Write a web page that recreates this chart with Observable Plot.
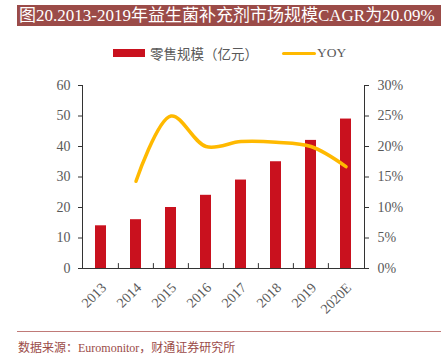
<!DOCTYPE html>
<html>
<head>
<meta charset="utf-8">
<script src="https://cdn.jsdelivr.net/npm/d3@7"></script>
<script src="https://cdn.jsdelivr.net/npm/@observablehq/plot@0.6"></script>
<style>
  body { margin: 0; background: #fff; }
  #wrap { position: relative; width: 441px; height: 354px; overflow: hidden; font-family: "Liberation Serif", "Noto Sans CJK SC", serif; }
  #title { position: absolute; left: 17px; top: 5px; width: 424px; height: 21px; background: #9b4b48; color: #fff; font-size: 17px; line-height: 21px; padding-left: 2px; box-sizing: border-box; white-space: nowrap; overflow: hidden; }
  #legend { position: absolute; top: 44px; left: 113px; height: 18px; display: flex; align-items: center; font-size: 13.5px; color: #595959; white-space: nowrap; }
  .sw-bar { width: 32px; height: 8px; background: #c9111e; margin-right: 5px; }
  .sw-line { width: 34px; height: 3px; background: #ffb900; margin-left: 24px; margin-right: 1px; border-radius: 2px; }
  #chart { position: absolute; left: 0; top: 70px; }
  #rule { position: absolute; left: 17px; top: 331px; width: 424px; height: 1px; background: #c07a78; }
  #source { position: absolute; left: 18px; top: 338px; font-size: 12px; color: #9b4b48; white-space: nowrap; }
</style>
</head>
<body>
<div id="wrap">
  <div id="title">图20.2013-2019年益生菌补充剂市场规模CAGR为20.09%</div>
  <div id="legend"><span class="sw-bar"></span><span>零售规模（亿元）</span><span class="sw-line"></span><span>YOY</span></div>
  <div id="chart"></div>
  <div id="rule"></div>
  <div id="source">数据来源：Euromonitor，财通证券研究所</div>
</div>
<script>
const years = ["2013", "2014", "2015", "2016", "2017", "2018", "2019", "2020E"];
const retail = [14, 16, 20, 24, 29, 35, 42, 49];
const yoy = [null, 14.3, 25.0, 20.0, 20.8, 20.7, 20.0, 16.7];
const leftTicks = [0, 10, 20, 30, 40, 50, 60];
const rightTickLabels = ["0%", "5%", "10%", "15%", "20%", "25%", "30%"];

const bars = years.map((year, i) => ({year, value: retail[i]}));
const yoyData = years.map((year, i) => ({year, yoy: yoy[i]})).filter(d => d.yoy != null);

const width = 441, height = 260;
const marginLeft = 82, marginRight = 77;
const step = (width - marginLeft - marginRight) / years.length;

const chart = Plot.plot({
  width, height,
  marginTop: 15, marginBottom: 62, marginLeft, marginRight,
  style: {fontFamily: '"Liberation Serif", "Noto Sans CJK SC", serif', fontSize: "14px", color: "#595959", background: "transparent", overflow: "visible"},
  x: {domain: years, paddingInner: 0.69, paddingOuter: 0.345, label: null},
  y: {domain: [0, 60], label: null},
  marks: [
    Plot.barY(bars, {x: "year", y: "value", fill: "#c9111e"}),
    Plot.line(yoyData, {x: "year", y: d => d.yoy * 2, stroke: "#ffb900", strokeWidth: 3.5, curve: "catmull-rom", strokeLinecap: "round"}),
    Plot.ruleY([0], {stroke: "#333"}),
    Plot.frame({anchor: "left", stroke: "#333"}),
    Plot.frame({anchor: "right", stroke: "#333"}),
    Plot.ruleX(years.slice(1), {x: d => d, y1: 0, y2: 1.6, dx: -step / 2, stroke: "#333"}),
    Plot.axisY(leftTicks, {anchor: "left", tickSize: 4, tickPadding: 8, stroke: "#333", fill: "#595959", label: null}),
    Plot.axisY(leftTicks, {anchor: "right", tickSize: 4, tickPadding: 9, stroke: "#333", fill: "#595959", label: null, tickFormat: (d) => rightTickLabels[leftTicks.indexOf(d)]}),
    Plot.axisX({tickSize: 0, tickPadding: 17, tickRotate: -45, dx: 3, fill: "#595959", label: null})
  ]
});
document.getElementById("chart").appendChild(chart);
</script>
</body>
</html>
